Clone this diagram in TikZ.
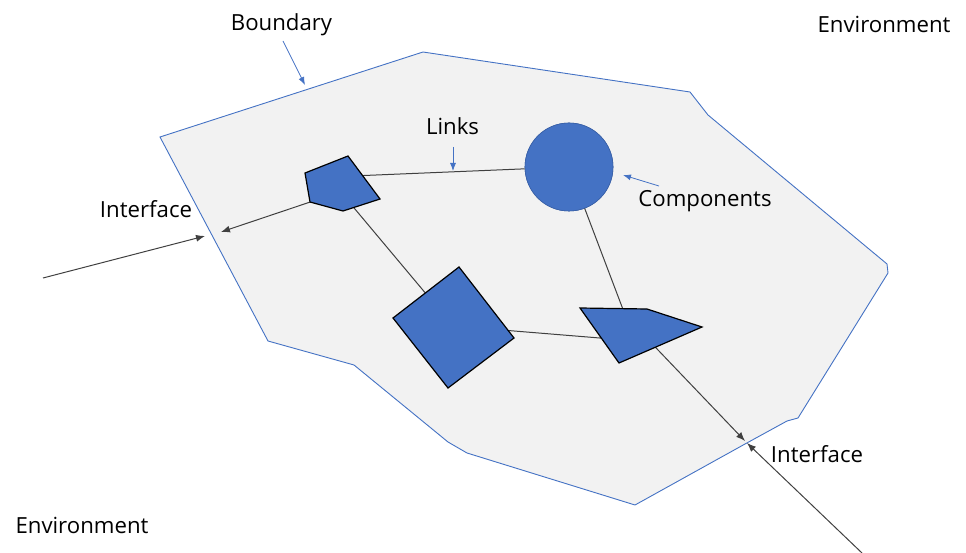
\documentclass[tikz,border=0pt]{standalone}
\usepackage{fontspec}
\setmainfont{Open Sans}
\usetikzlibrary{arrows.meta}
\definecolor{accent}{HTML}{4472C4}
\definecolor{bgfill}{HTML}{F2F2F2}
\definecolor{linkgray}{HTML}{404040}
\tikzset{
  boundaryline/.style={draw=accent, line width=0.9pt, fill=bgfill, line join=miter},
  compshape/.style={draw=black, line width=1.2pt, fill=accent, line join=miter},
  compcircle/.style={circle, fill=accent, draw=accent!85!black, line width=0.6pt, minimum size=88pt, inner sep=0pt},
  linkline/.style={draw=linkgray, line width=1pt},
  ifarrow/.style={draw=linkgray, line width=1pt, -{Latex[length=9pt,width=7pt]}},
  labelarrow/.style={draw=accent, line width=0.8pt, -{Latex[length=8pt,width=6pt]}},
  lbl/.style={anchor=base, inner sep=0pt, font=\fontsize{22.2}{26}\selectfont, text=black}
}
\begin{document}
\begin{tikzpicture}[x=1pt,y=-1pt]
\useasboundingbox (0,0) rectangle (966,553);
% boundary
\draw[boundaryline] (160,137) -- (423,52) -- (690,92) -- (708,115) -- (887,264) -- (888,273)
  -- (798,418) -- (787,421) -- (745,444) -- (635,505) -- (467,453) -- (448,442)
  -- (354,365) -- (268,341) -- cycle;
% named points
\coordinate (pentA) at (352,176);
\coordinate (pentC) at (339,190);
\coordinate (pentD) at (337,193);
\coordinate (sqC) at (453,326);
\coordinate (quadC) at (637,328);
\coordinate (quadL) at (612,339);
\coordinate (quadT) at (627,320);
\coordinate (ifLin) at (221,232);
\coordinate (ifLout) at (205,236);
\coordinate (envL) at (43,278);
\coordinate (ifRin) at (745,441);
\coordinate (ifRout) at (747,443);
\coordinate (envR) at (862,553);
% component circle
\node[compcircle] (comp) at (569,167) {};
% links (behind shapes)
\draw[linkline] (pentA) -- (comp);
\draw[linkline] (pentC) -- (sqC);
\draw[linkline] (comp.center) -- (quadT);
\draw[linkline] (sqC) -- (quadL);
% interface arrows
\draw[ifarrow] (pentD) -- (ifLin);
\draw[ifarrow] (envL) -- (ifLout);
\draw[ifarrow] (quadC) -- (ifRin);
\draw[ifarrow] (envR) -- (ifRout);
% redraw circle over its links
\node[compcircle] at (comp) {};
% shapes
\draw[compshape] (305,173) -- (348,156) -- (380,199) -- (343,211) -- (310,202) -- cycle;
\draw[compshape] (393,318) -- (459,267) -- (514,338) -- (448,388) -- cycle;
\draw[compshape] (580,308) -- (647,309) -- (702,327) -- (619,363) -- cycle;
% labels
\node[lbl] (tBoundary) at (281.5,31) {Boundary};
\coordinate (bndA) at (283,41);
\coordinate (bndB) at (305,85);
\draw[labelarrow] (bndA) -- (bndB);
\node[lbl] (tLinks) at (452.5,135) {Links};
\coordinate (lnkA) at (453,147);
\coordinate (lnkB) at (453,171);
\draw[labelarrow] (lnkA) -- (lnkB);
\node[lbl] (tComp) at (705,207) {Components};
\coordinate (cmpA) at (659,186);
\coordinate (cmpB) at (623,175);
\draw[labelarrow] (cmpA) -- (cmpB);
\node[lbl] (tIfL) at (146,218) {Interface};
\node[lbl] (tIfR) at (817,462) {Interface};
\node[lbl] (tEnvTR) at (884,33) {Environment};
\node[lbl] (tEnvBL) at (82,533) {Environment};
\end{tikzpicture}
\end{document}
